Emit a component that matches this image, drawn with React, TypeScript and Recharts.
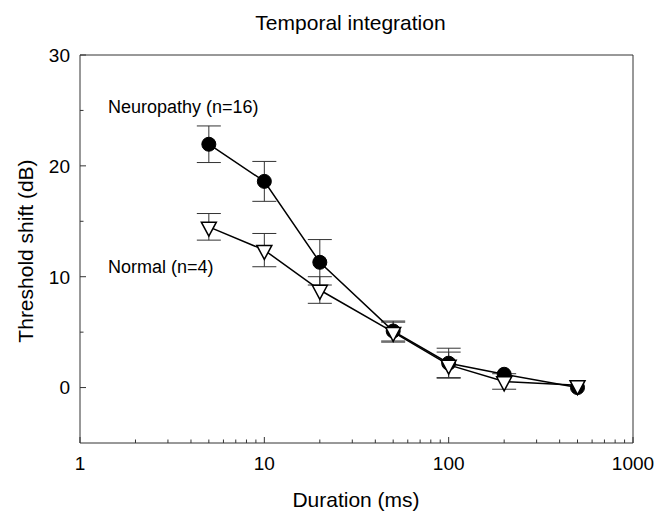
import React from 'react';
import { ComposedChart, Line, XAxis, YAxis, ErrorBar, ReferenceLine } from 'recharts';

const durations = [5, 10, 20, 50, 100, 200, 500];
const neuropathyMean = [21.95, 18.6, 11.3, 5.1, 2.2, 1.2, 0.0];
const neuropathyErr = [1.65, 1.8, 2.05, 0.9, 1.35, 0, 0];
const normalMean = [14.5, 12.4, 8.8, 5.0, 2.05, 0.55, 0.2];
const normalErr = [1.2, 1.5, 1.2, 0.9, 1.15, 0.7, 0];

const xMajorTicks = [1, 10, 100, 1000];
const xMinorTicks = [2, 3, 4, 5, 6, 7, 8, 9, 20, 30, 40, 50, 60, 70, 80, 90, 200, 300, 400, 500, 600, 700, 800, 900];
const yMajorTicks = [0, 10, 20, 30];
const yMinorTicks = [5, 15, 25];

const titleText = 'Temporal integration';
const xLabelText = 'Duration (ms)';
const yLabelText = 'Threshold shift (dB)';
const neuropathyLabel = 'Neuropathy (n=16)';
const normalLabel = 'Normal (n=4)';

const FONT = '"Liberation Sans", Arial, Helvetica, sans-serif';
const AXIS_COLOR = '#333';

const data = durations.map((d, i) => ({
  duration: d,
  neu: neuropathyMean[i],
  neuErr: neuropathyErr[i],
  nor: normalMean[i],
  norErr: normalErr[i],
}));

const allXTicks = [...xMajorTicks, ...xMinorTicks].sort((a, b) => a - b);
const allYTicks = [...yMajorTicks, ...yMinorTicks].sort((a, b) => a - b);

const XTick = (props: any) => {
  const { x, y, payload } = props;
  const major = xMajorTicks.includes(payload.value);
  return (
    <g>
      <line x1={x} x2={x} y1={y} y2={y - (major ? 6 : 3.5)} stroke={AXIS_COLOR} strokeWidth={1} />
      {major && (
        <text x={x} y={y + 27} textAnchor="middle" fontSize={19} fontFamily={FONT} fill="#000">
          {payload.value}
        </text>
      )}
    </g>
  );
};

const YTick = (props: any) => {
  const { x, y, payload } = props;
  const major = yMajorTicks.includes(payload.value);
  return (
    <g>
      <line x1={x} x2={x + (major ? 6 : 3.5)} y1={y} y2={y} stroke={AXIS_COLOR} strokeWidth={1} />
      {major && (
        <text x={x - 10} y={y} dy="0.36em" textAnchor="end" fontSize={19} fontFamily={FONT} fill="#000">
          {payload.value}
        </text>
      )}
    </g>
  );
};

const CircleDot = (props: any) => {
  const { cx, cy, index } = props;
  if (cx == null || cy == null) return <g key={`c${index}`} />;
  return <circle key={`c${index}`} cx={cx} cy={cy} r={7} fill="#000" stroke="#000" strokeWidth={1} />;
};

const TriangleDot = (props: any) => {
  const { cx, cy, index } = props;
  if (cx == null || cy == null) return <g key={`t${index}`} />;
  const hw = 7.5;
  const h = 14;
  const top = cy - h / 3;
  const bottom = cy + (2 * h) / 3;
  return (
    <path
      key={`t${index}`}
      d={`M${cx - hw},${top} L${cx + hw},${top} L${cx},${bottom} Z`}
      fill="#fff"
      stroke="#000"
      strokeWidth={1.5}
      strokeLinejoin="miter"
    />
  );
};

export default function App() {
  return (
    <div style={{ position: 'absolute', left: 0, top: 0, fontFamily: FONT }}>
      <ComposedChart
        width={656}
        height={511}
        data={data}
        margin={{ top: 55, right: 23, bottom: 0, left: 0 }}
      >
        <XAxis
          dataKey="duration"
          type="number"
          scale="log"
          domain={[1, 1000]}
          ticks={allXTicks}
          interval={0}
          tickSize={0}
          tickMargin={0}
          tickLine={false}
          tick={<XTick />}
          height={68}
          axisLine={{ stroke: AXIS_COLOR, strokeWidth: 1 }}
          allowDataOverflow
        />
        <YAxis
          type="number"
          domain={[-5, 30]}
          ticks={allYTicks}
          interval={0}
          tickSize={0}
          tickMargin={0}
          tickLine={false}
          tick={<YTick />}
          width={80}
          axisLine={{ stroke: AXIS_COLOR, strokeWidth: 1 }}
          allowDataOverflow
        />
        <ReferenceLine y={30} stroke={AXIS_COLOR} strokeWidth={1} />
        <ReferenceLine x={1000} stroke={AXIS_COLOR} strokeWidth={1} />
        <Line
          dataKey="neu"
          stroke="#000"
          strokeWidth={1.5}
          dot={CircleDot}
          activeDot={false}
          isAnimationActive={false}
        >
          <ErrorBar dataKey="neuErr" direction="y" width={12} stroke="#333" strokeWidth={1} isAnimationActive={false} />
        </Line>
        <Line
          dataKey="nor"
          stroke="#000"
          strokeWidth={1.5}
          dot={TriangleDot}
          activeDot={false}
          isAnimationActive={false}
        >
          <ErrorBar dataKey="norErr" direction="y" width={12} stroke="#333" strokeWidth={1} isAnimationActive={false} />
        </Line>
        <text x={350.5} y={30} textAnchor="middle" fontSize={21} fontFamily={FONT} fill="#000">
          {titleText}
        </text>
        <text x={356} y={507} textAnchor="middle" fontSize={21} fontFamily={FONT} fill="#000">
          {xLabelText}
        </text>
        <text
          x={25}
          y={251}
          textAnchor="middle"
          dominantBaseline="central"
          fontSize={21}
          fontFamily={FONT}
          fill="#000"
          transform="rotate(-90 25 251)"
        >
          {yLabelText}
        </text>
        <text x={108} y={113} fontSize={18} fontFamily={FONT} fill="#000">
          {neuropathyLabel}
        </text>
        <text x={108} y={273} fontSize={18} fontFamily={FONT} fill="#000">
          {normalLabel}
        </text>
      </ComposedChart>
    </div>
  );
}
